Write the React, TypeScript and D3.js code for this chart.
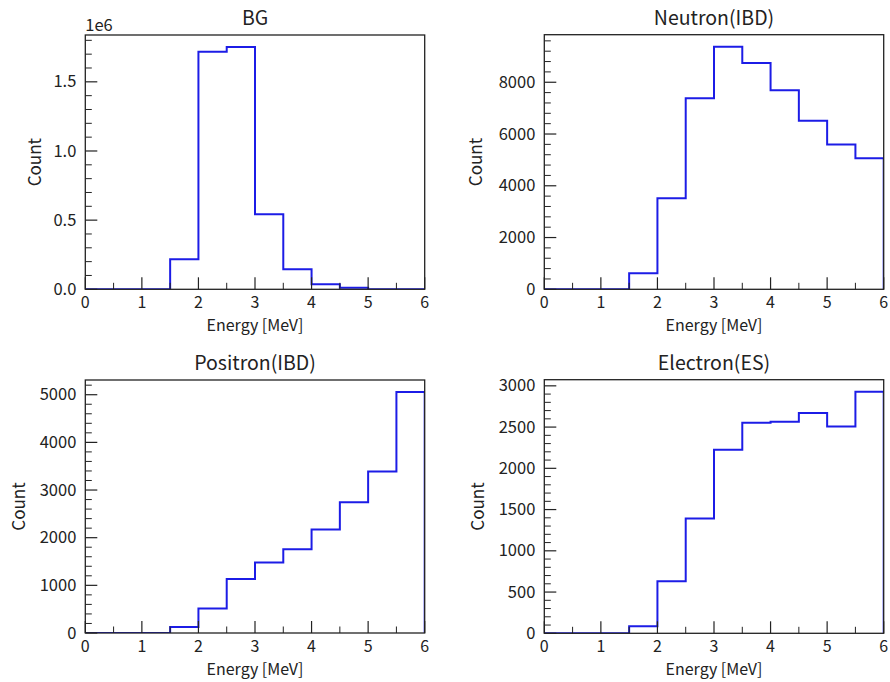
import React from "react";
import * as d3 from "d3";

const binEdges = [0, 0.5, 1, 1.5, 2, 2.5, 3, 3.5, 4, 4.5, 5, 5.5, 6];
const xTicks = [0, 1, 2, 3, 4, 5, 6];
const xTickLabels = ["0", "1", "2", "3", "4", "5", "6"];

const bgCounts = [0, 0, 0, 217000, 1717000, 1751000, 543000, 145000, 36000, 12000, 0, 0];
const neutronCounts = [0, 0, 0, 620, 3514, 7380, 9369, 8748, 7690, 6515, 5596, 5065];
const positronCounts = [0, 0, 0, 125, 514, 1132, 1479, 1757, 2174, 2743, 3389, 5056];
const electronCounts = [0, 0, 0, 84, 630, 1393, 2224, 2554, 2566, 2670, 2506, 2928];

const bgYTicks = [0, 500000, 1000000, 1500000];
const bgYTickLabels = ["0.0", "0.5", "1.0", "1.5"];
const neutronYTicks = [0, 2000, 4000, 6000, 8000];
const neutronYTickLabels = ["0", "2000", "4000", "6000", "8000"];
const positronYTicks = [0, 1000, 2000, 3000, 4000, 5000];
const positronYTickLabels = ["0", "1000", "2000", "3000", "4000", "5000"];
const electronYTicks = [0, 500, 1000, 1500, 2000, 2500, 3000];
const electronYTickLabels = ["0", "500", "1000", "1500", "2000", "2500", "3000"];

const titles = ["BG", "Neutron(IBD)", "Positron(IBD)", "Electron(ES)"];
const xLabel = "Energy [MeV]";
const yLabel = "Count";

const FONT = "'Noto Sans CJK JP', 'Noto Sans', sans-serif";
const TEXT = "#222";
const LINE = "#1c1ce6";

type PanelProps = {
  x0: number; x1: number; y0: number; y1: number;
  counts: number[]; yTicks: number[]; yTickLabels: string[];
  minorStep: number; title: string; ylabelOffset: number; offsetText?: string;
};

function Panel(p: PanelProps) {
  const xs = d3.scaleLinear().domain([0, 6]).range([p.x0, p.x1]);
  const ymax = (d3.max(p.counts) as number) * 1.05;
  const ys = d3.scaleLinear().domain([0, ymax]).range([p.y1, p.y0]);
  const pts: [number, number][] = [[binEdges[0], 0]];
  p.counts.forEach((c, i) => {
    pts.push([binEdges[i], c]);
    pts.push([binEdges[i + 1], c]);
  });
  pts.push([binEdges[binEdges.length - 1], 0]);
  const line = d3.line<[number, number]>().x(d => xs(d[0])).y(d => ys(d[1]));
  const minorY = d3.range(0, ymax, p.minorStep).filter(v => !p.yTicks.some(t => Math.abs(t - v) < 1e-6 * ymax));
  const minorX = d3.range(0.5, 6, 1);
  const clipId = "clip" + p.title.replace(/[^a-zA-Z]/g, "");
  const MAJ = 12, MIN = 6.5;
  return (
    <g>
      <defs>
        <clipPath id={clipId}>
          <rect x={p.x0} y={p.y0} width={p.x1 - p.x0} height={p.y1 - p.y0} />
        </clipPath>
      </defs>
      <path d={line(pts) || ""} fill="none" stroke={LINE} strokeWidth={2} clipPath={`url(#${clipId})`} />
      {xTicks.map(t => (
        <line key={"xt" + t} x1={xs(t)} x2={xs(t)} y1={p.y1} y2={p.y1 - MAJ} stroke="#222" strokeWidth={1.2} />
      ))}
      {minorX.map(t => (
        <line key={"xm" + t} x1={xs(t)} x2={xs(t)} y1={p.y1} y2={p.y1 - MIN} stroke="#222" strokeWidth={1} />
      ))}
      {p.yTicks.map(t => (
        <line key={"yt" + t} x1={p.x0} x2={p.x0 + MAJ} y1={ys(t)} y2={ys(t)} stroke="#222" strokeWidth={1.2} />
      ))}
      {minorY.map(t => (
        <line key={"ym" + t} x1={p.x0} x2={p.x0 + MIN} y1={ys(t)} y2={ys(t)} stroke="#222" strokeWidth={1} />
      ))}
      <rect x={p.x0} y={p.y0} width={p.x1 - p.x0} height={p.y1 - p.y0} fill="none" stroke="#222" strokeWidth={1.3} />
      {xTicks.map((t, i) => (
        <text key={"xl" + t} x={xs(t)} y={p.y1 + 18.5} textAnchor="middle" fontSize={16} fill={TEXT} fontFamily={FONT}>{xTickLabels[i]}</text>
      ))}
      {p.yTicks.map((t, i) => (
        <text key={"yl" + t} x={p.x0 - 9} y={ys(t) + 5.6} textAnchor="end" fontSize={16.5} fill={TEXT} fontFamily={FONT}>{p.yTickLabels[i]}</text>
      ))}
      <text x={(p.x0 + p.x1) / 2} y={p.y1 + 41.5} textAnchor="middle" fontSize={16} fill={TEXT} fontFamily={FONT}>{xLabel}</text>
      <text transform={`translate(${p.x0 - p.ylabelOffset},${(p.y0 + p.y1) / 2}) rotate(-90)`} textAnchor="middle" fontSize={17} fill={TEXT} fontFamily={FONT}>{yLabel}</text>
      <text x={(p.x0 + p.x1) / 2} y={p.y0 - 10} textAnchor="middle" fontSize={19.5} fill={TEXT} fontFamily={FONT}>{p.title}</text>
      {p.offsetText && (
        <text x={p.x0} y={p.y0 - 4.5} textAnchor="start" fontSize={16.5} fill={TEXT} fontFamily={FONT}>{p.offsetText}</text>
      )}
    </g>
  );
}

export default function App() {
  return (
    <div style={{ position: "absolute", left: 0, top: 0 }}>
      <svg width={890} height={682} style={{ display: "block", background: "#fff" }}>
        <Panel x0={85.3} x1={424.7} y0={35} y1={289.3} counts={bgCounts} yTicks={bgYTicks} yTickLabels={bgYTickLabels} minorStep={100000} title={titles[0]} ylabelOffset={44} offsetText="1e6" />
        <Panel x0={544.3} x1={883.7} y0={34.7} y1={289.3} counts={neutronCounts} yTicks={neutronYTicks} yTickLabels={neutronYTickLabels} minorStep={400} title={titles[1]} ylabelOffset={62} />
        <Panel x0={85.3} x1={424.7} y0={380} y1={633} counts={positronCounts} yTicks={positronYTicks} yTickLabels={positronYTickLabels} minorStep={200} title={titles[2]} ylabelOffset={60} />
        <Panel x0={544.3} x1={883.7} y0={379.7} y1={633.3} counts={electronCounts} yTicks={electronYTicks} yTickLabels={electronYTickLabels} minorStep={100} title={titles[3]} ylabelOffset={60} />
      </svg>
    </div>
  );
}
